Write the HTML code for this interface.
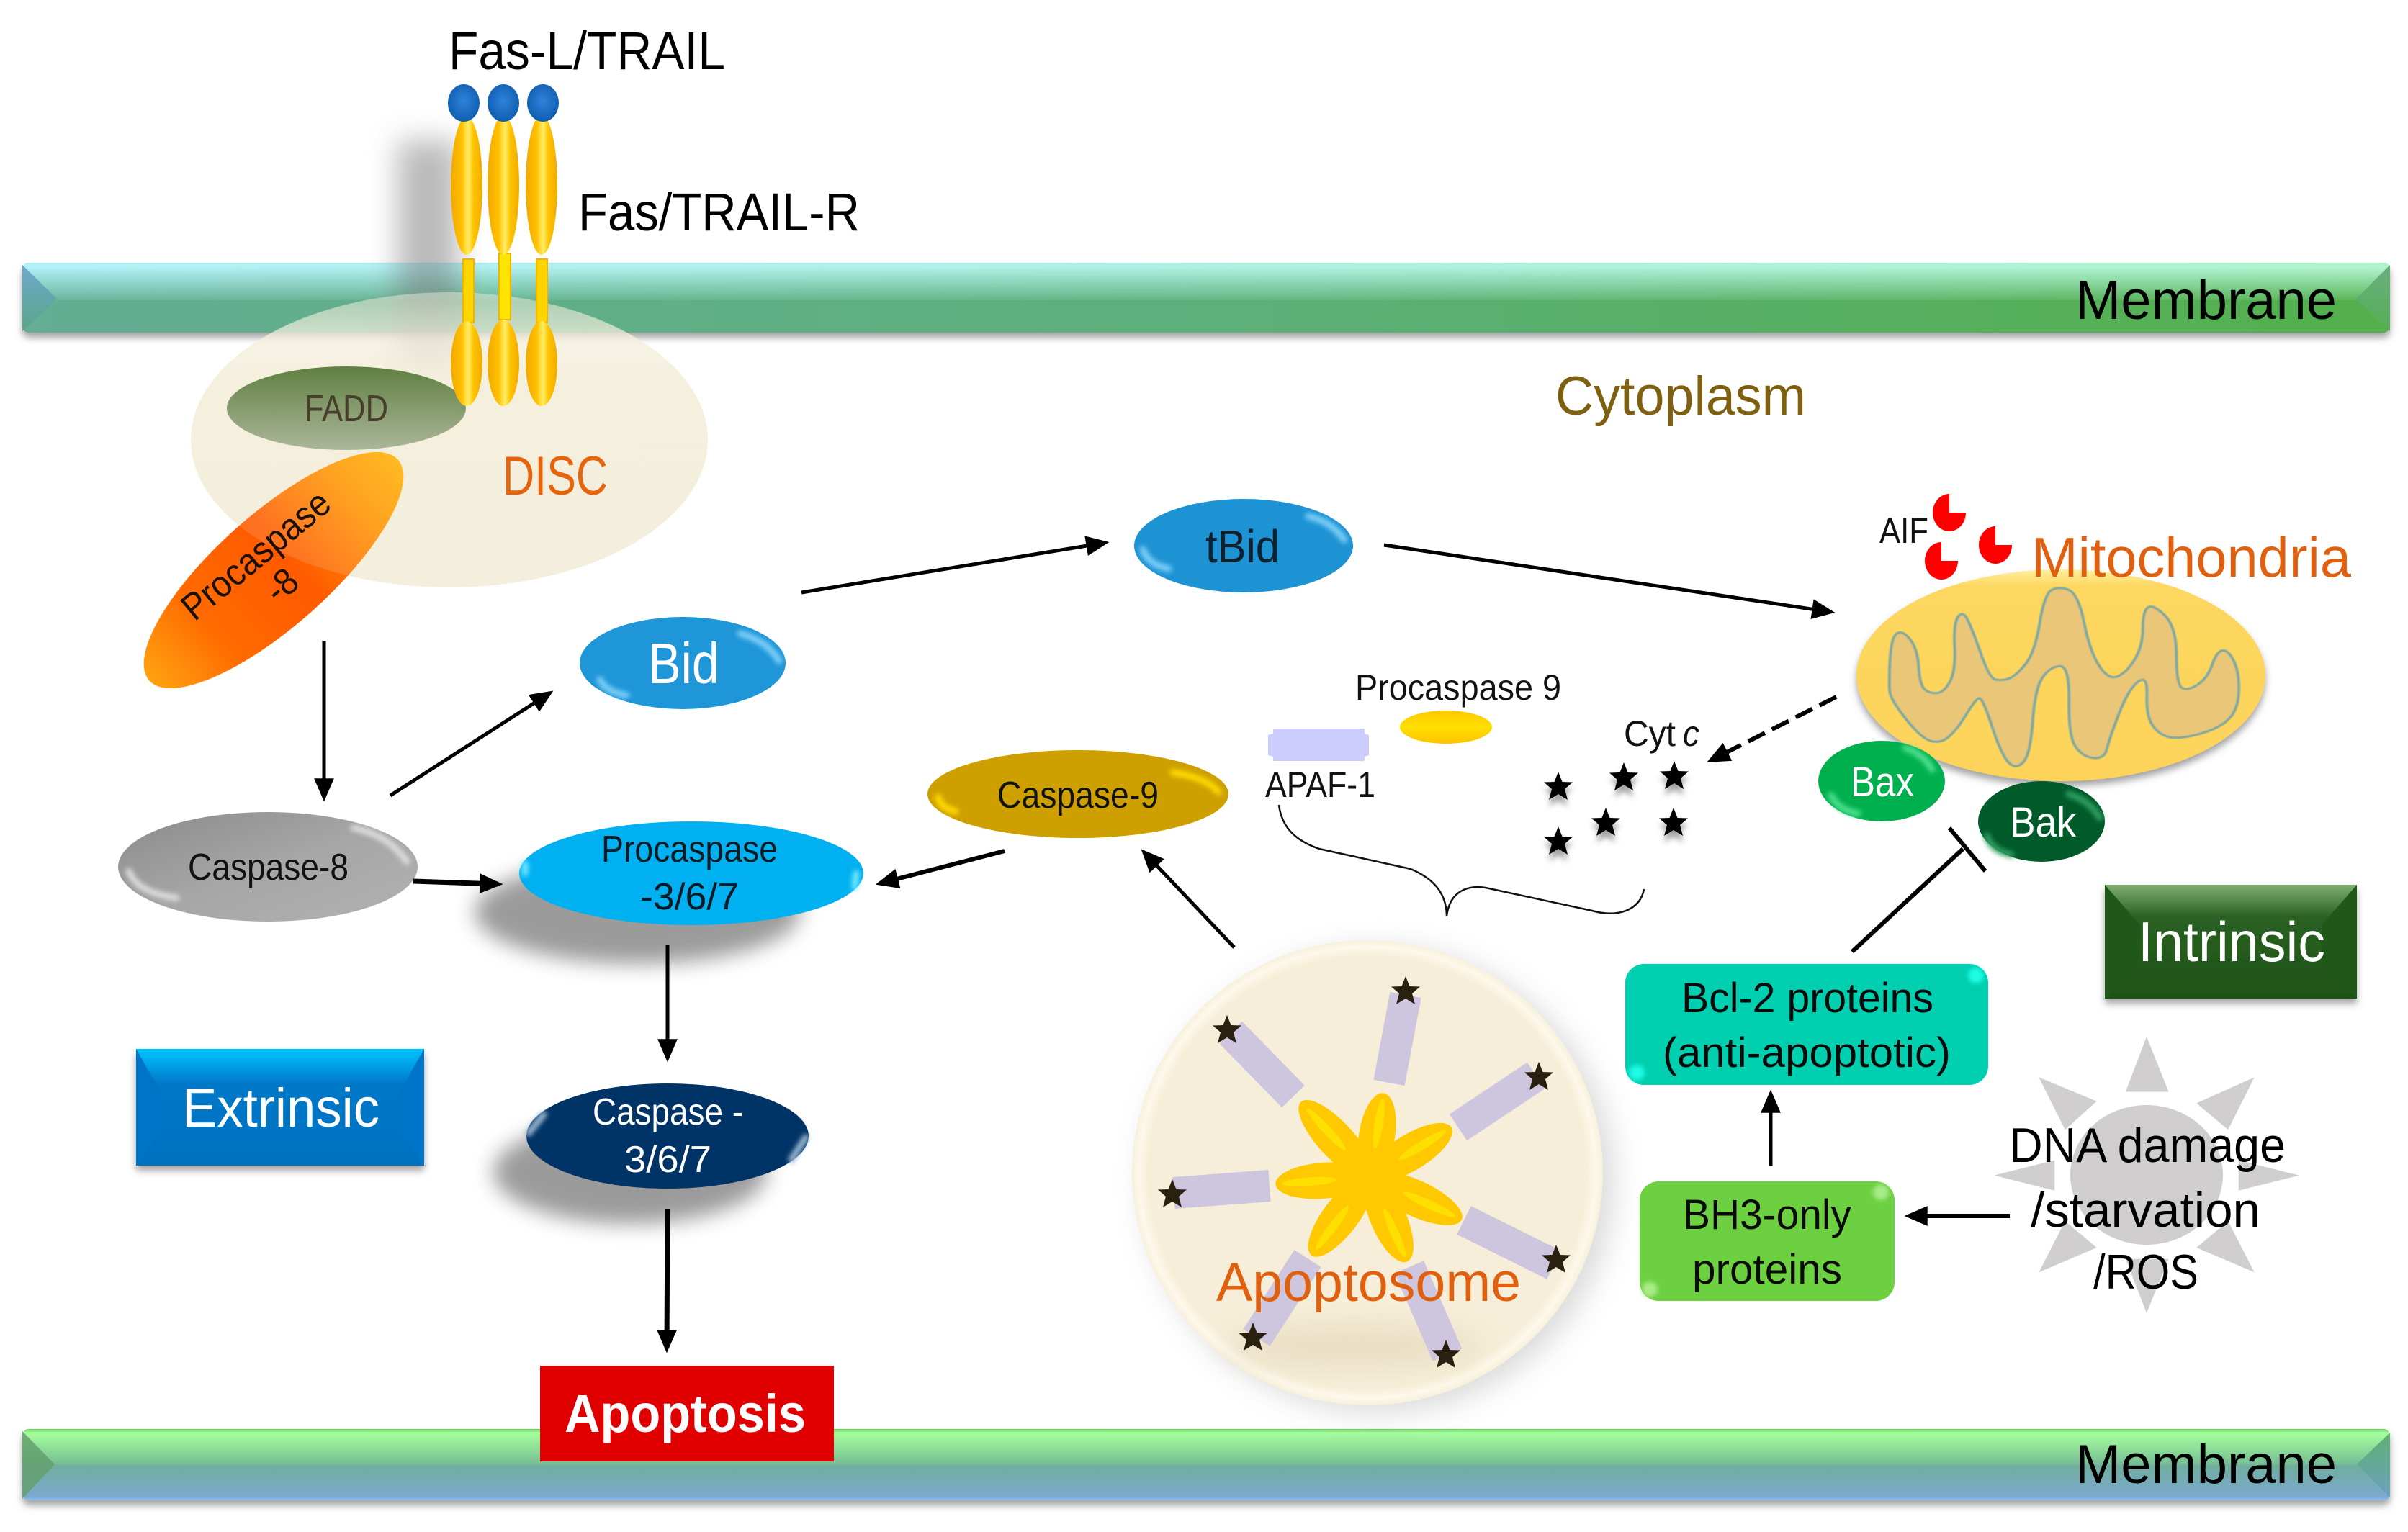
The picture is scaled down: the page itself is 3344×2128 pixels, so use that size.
<!DOCTYPE html>
<html><head><meta charset="utf-8"><style>
html,body{margin:0;padding:0;background:#fff}
svg{display:block}
text{font-family:"Liberation Sans",sans-serif}
</style></head><body>
<svg xmlns="http://www.w3.org/2000/svg" width="3344" height="2128" viewBox="0 0 3344 2128">
<defs>
<filter id="hl" filterUnits="userSpaceOnUse" x="0" y="0" width="3344" height="2128"><feGaussianBlur stdDeviation="3.5"/></filter>
<filter id="b14" x="-50%" y="-50%" width="200%" height="200%"><feGaussianBlur stdDeviation="14"/></filter>
<filter id="b20" x="-50%" y="-50%" width="200%" height="200%"><feGaussianBlur stdDeviation="20"/></filter>
<filter id="s1" x="-20%" y="-20%" width="140%" height="150%"><feDropShadow dx="0" dy="7" stdDeviation="5" flood-color="#555" flood-opacity=".55"/></filter>
<filter id="s2" x="-30%" y="-30%" width="160%" height="180%"><feDropShadow dx="0" dy="9" stdDeviation="4" flood-color="#444" flood-opacity=".5"/></filter>
<filter id="soft" x="-5%" y="-5%" width="110%" height="110%"><feGaussianBlur stdDeviation="1"/></filter>
<marker id="a" markerUnits="userSpaceOnUse" markerWidth="34" markerHeight="30" viewBox="0 0 30 28" refX="24" refY="14" orient="auto"><path d="M0 1L30 14L0 27Z" fill="#000"/></marker>
<linearGradient id="mth" x1="0" y1="0" x2="1" y2="0"><stop offset="0" stop-color="#64ae94"/><stop offset=".5" stop-color="#5cb07a"/><stop offset="1" stop-color="#52b04c"/></linearGradient>
<linearGradient id="mtg" x1="0" y1="0" x2="1" y2="0"><stop offset="0" stop-color="#b8f4ff"/><stop offset=".5" stop-color="#b6f4ea"/><stop offset="1" stop-color="#b8f8d8"/></linearGradient>
<linearGradient id="mtf" x1="0" y1="0" x2="0" y2="1"><stop offset="0" stop-color="#fff" stop-opacity=".92"/><stop offset=".1" stop-color="#fff" stop-opacity=".95"/><stop offset="1" stop-color="#fff" stop-opacity=".1"/></linearGradient>
<mask id="mm" maskUnits="userSpaceOnUse" x="31" y="365" width="3288" height="55"><rect x="31" y="365" width="3288" height="52" fill="url(#mtf)"/></mask>
<linearGradient id="mb" x1="0" y1="0" x2="0" y2="1"><stop offset="0" stop-color="#62c85a"/><stop offset=".05" stop-color="#a6ff9c"/><stop offset=".48" stop-color="#78bf95"/><stop offset=".52" stop-color="#70ae9f"/><stop offset=".95" stop-color="#7ca9cf"/><stop offset="1" stop-color="#8fbef0"/></linearGradient>
<linearGradient id="ml" x1="0" y1="0" x2="0" y2="1"><stop offset="0" stop-color="#6fa9cc"/><stop offset="1" stop-color="#5aa58a"/></linearGradient>
<linearGradient id="mr" x1="0" y1="0" x2="0" y2="1"><stop offset="0" stop-color="#6aae80"/><stop offset="1" stop-color="#56ae54"/></linearGradient>
<linearGradient id="mr2" x1="0" y1="0" x2="0" y2="1"><stop offset="0" stop-color="#5fb070"/><stop offset="1" stop-color="#6aa0c0"/></linearGradient>
<linearGradient id="ry" x1="0" y1="0" x2="1" y2="0"><stop offset="0" stop-color="#f2a900"/><stop offset=".35" stop-color="#ffc000"/><stop offset=".55" stop-color="#ffee66"/><stop offset=".72" stop-color="#ffc400"/><stop offset="1" stop-color="#f0aa00"/></linearGradient>
<radialGradient id="bb" cx=".5" cy=".45" r=".55"><stop offset="0" stop-color="#2f82dc"/><stop offset="1" stop-color="#0f5eaf"/></radialGradient>
<linearGradient id="disc" x1="0" y1="0" x2="0" y2="1"><stop offset="0" stop-color="#f6f0de" stop-opacity=".45"/><stop offset=".15" stop-color="#f5efdd" stop-opacity=".75"/><stop offset=".3" stop-color="#f5efdd"/><stop offset="1" stop-color="#f4eedc"/></linearGradient>
<linearGradient id="fadd" x1="0" y1="0" x2="0" y2="1"><stop offset="0" stop-color="#5f8040"/><stop offset="1" stop-color="#acb69b"/></linearGradient>
<linearGradient id="pc8" x1="0" y1="0" x2="1" y2="0"><stop offset="0" stop-color="#ffa210"/><stop offset=".25" stop-color="#ff6a00"/><stop offset=".55" stop-color="#ff5a00"/><stop offset=".8" stop-color="#ff9000"/><stop offset="1" stop-color="#ffb000"/></linearGradient>
<linearGradient id="gray" x1="0" y1="0" x2="1" y2="1"><stop offset="0" stop-color="#8a8a8a"/><stop offset=".5" stop-color="#a6a6a6"/><stop offset="1" stop-color="#b2b2b2"/></linearGradient>
<linearGradient id="ext" x1="0" y1="0" x2="0" y2="1"><stop offset="0" stop-color="#00c4ff"/><stop offset=".3" stop-color="#0078c8"/><stop offset="1" stop-color="#0070c0"/></linearGradient>
<linearGradient id="int" x1="0" y1="0" x2="0" y2="1"><stop offset="0" stop-color="#7fae70"/><stop offset=".28" stop-color="#2a6122"/><stop offset="1" stop-color="#1f5216"/></linearGradient>
<linearGradient id="mit" x1="0" y1="0" x2="0" y2="1"><stop offset="0" stop-color="#fff09e"/><stop offset=".08" stop-color="#fdd75f"/><stop offset="1" stop-color="#fdd35a"/></linearGradient>
<radialGradient id="apo" cx=".5" cy=".5" r=".5"><stop offset="0" stop-color="#f6eed8"/><stop offset=".93" stop-color="#f6eed8"/><stop offset=".97" stop-color="#fdf8ea"/><stop offset="1" stop-color="#f7f0dc"/></radialGradient>
<linearGradient id="pt" x1="0" y1="0" x2="0" y2="1"><stop offset="0" stop-color="#ffc800"/><stop offset=".5" stop-color="#ffe000"/><stop offset="1" stop-color="#ffc400"/></linearGradient>
<clipPath id="cd"><ellipse cx="624" cy="611" rx="359" ry="205"/></clipPath>
<g id="st"><polygon points="0,-21 5.5,-7 20,-6.5 9,3 13,18 0,10 -13,18 -9,3 -20,-6.5 -5.5,-7"/></g>
</defs>

<rect width="3344" height="2128" fill="#fff"/>

<!-- top membrane -->
<g filter="url(#s1)"><rect x="31" y="365" width="3288" height="97" rx="9" fill="url(#mth)"/></g>
<rect x="31" y="365" width="3288" height="52" rx="9" fill="url(#mtg)" mask="url(#mm)"/>
<polygon points="31,368 79,415 31,460" fill="url(#ml)"/>
<polygon points="3319,368 3272,415 3319,460" fill="url(#mr)"/>
<text x="2882" y="443" font-size="76" fill="#000" textLength="363" lengthAdjust="spacingAndGlyphs">Membrane</text>

<!-- bottom membrane -->
<g filter="url(#s1)"><rect x="31" y="1985" width="3288" height="99" rx="9" fill="url(#mb)"/></g>
<polygon points="31,1988 76,2034 31,2082" fill="#63a06f" opacity=".85"/>
<polygon points="3319,1990 3273,2034 3319,2080" fill="url(#mr2)"/>
<text x="2882" y="2060" font-size="76" fill="#000" textLength="363" lengthAdjust="spacingAndGlyphs">Membrane</text>

<!-- receptor shadow -->
<rect x="552" y="195" width="85" height="400" fill="#777" opacity=".5" filter="url(#b20)"/>

<!-- DISC -->
<ellipse cx="624" cy="611" rx="359" ry="205" fill="url(#disc)"/>
<text x="698" y="687" font-size="76" fill="#e8640c" textLength="146" lengthAdjust="spacingAndGlyphs">DISC</text>
<ellipse cx="481" cy="567" rx="166" ry="58" fill="url(#fadd)"/>
<text x="423" y="585" font-size="52" fill="#473f2c" textLength="116" lengthAdjust="spacingAndGlyphs">FADD</text>

<!-- Fas receptors -->
<g>
<rect x="643" y="360" width="15" height="88" fill="#ffd500" stroke="#f2b200" stroke-width="2"/>
<rect x="693" y="352" width="16" height="92" fill="#ffe400" stroke="#f2b200" stroke-width="2"/>
<rect x="745" y="360" width="15" height="88" fill="#ffd500" stroke="#f2b200" stroke-width="2"/>
<ellipse cx="648" cy="258" rx="22" ry="96" fill="url(#ry)"/>
<ellipse cx="699" cy="257" rx="22" ry="97" fill="url(#ry)"/>
<ellipse cx="752" cy="257" rx="22" ry="97" fill="url(#ry)"/>
<ellipse cx="648" cy="505" rx="22" ry="59" fill="url(#ry)"/>
<ellipse cx="699" cy="504" rx="22" ry="60" fill="url(#ry)"/>
<ellipse cx="752" cy="505" rx="22" ry="59" fill="url(#ry)"/>
<ellipse cx="644" cy="143" rx="22" ry="26" fill="url(#bb)"/>
<ellipse cx="699" cy="143" rx="22" ry="26" fill="url(#bb)"/>
<ellipse cx="754" cy="143" rx="22" ry="26" fill="url(#bb)"/>
</g>
<text x="623" y="96" font-size="74" fill="#000" textLength="384" lengthAdjust="spacingAndGlyphs">Fas-L/TRAIL</text>
<text x="803" y="320" font-size="74" fill="#000" textLength="391" lengthAdjust="spacingAndGlyphs">Fas/TRAIL-R</text>

<!-- Procaspase-8 -->
<ellipse cx="380" cy="792" rx="231" ry="78" transform="rotate(-41.6 380 792)" fill="url(#pc8)"/>
<g clip-path="url(#cd)"><ellipse cx="380" cy="792" rx="231" ry="78" transform="rotate(-41.6 380 792)" fill="#fff" opacity=".13"/></g>
<text transform="translate(270 864) rotate(-39.5)" font-size="52" fill="#1a1000" textLength="250" lengthAdjust="spacingAndGlyphs">Procaspase</text>
<text transform="translate(386 840) rotate(-39.5)" font-size="52" fill="#1a1000" textLength="42" lengthAdjust="spacingAndGlyphs">-8</text>

<!-- Bid / tBid -->
<ellipse cx="948" cy="921" rx="143" ry="64" fill="#1e96d8"/>
<text x="900" y="949" font-size="80" fill="#fff" textLength="99" lengthAdjust="spacingAndGlyphs">Bid</text>
<ellipse cx="1727" cy="758" rx="152" ry="65" fill="#1d93d3"/>
<text x="1674" y="781" font-size="64" fill="#10202c" textLength="103" lengthAdjust="spacingAndGlyphs">tBid</text>

<!-- Caspase-8 -->
<ellipse cx="372" cy="1204" rx="208" ry="76" fill="url(#gray)"/>
<text x="261" y="1222" font-size="52" fill="#111" textLength="223" lengthAdjust="spacingAndGlyphs">Caspase-8</text>

<!-- Procaspase 3/6/7 -->
<ellipse cx="885" cy="1267" rx="226" ry="72" fill="#666" opacity=".65" filter="url(#b14)"/>
<ellipse cx="960" cy="1213" rx="239" ry="72" fill="#00b0f0"/>
<text x="835" y="1197" font-size="52" fill="#0a1a22" textLength="245" lengthAdjust="spacingAndGlyphs">Procaspase</text>
<text x="889" y="1263" font-size="52" fill="#0a1a22" textLength="137" lengthAdjust="spacingAndGlyphs">-3/6/7</text>

<!-- Caspase 3/6/7 -->
<ellipse cx="875" cy="1628" rx="190" ry="72" fill="#666" opacity=".65" filter="url(#b14)"/>
<ellipse cx="927" cy="1578" rx="196" ry="73" fill="#003366"/>
<text x="823" y="1562" font-size="52" fill="#fff" textLength="209" lengthAdjust="spacingAndGlyphs">Caspase -</text>
<text x="867" y="1628" font-size="52" fill="#fff" textLength="121" lengthAdjust="spacingAndGlyphs">3/6/7</text>

<!-- Extrinsic -->
<g filter="url(#s1)"><rect x="189" y="1457" width="400" height="162" fill="url(#ext)"/></g>
<polygon points="189,1457 225,1520 225,1570 189,1619" fill="#0074c6"/>
<polygon points="589,1457 553,1520 553,1570 589,1619" fill="#0074c6"/>
<text x="253" y="1565" font-size="76" fill="#fff" textLength="274" lengthAdjust="spacingAndGlyphs">Extrinsic</text>

<!-- Apoptosis -->
<rect x="750" y="1897" width="408" height="133" fill="#e00000"/>
<text x="784" y="1989" font-size="74" font-weight="bold" fill="#fff" textLength="335" lengthAdjust="spacingAndGlyphs">Apoptosis</text>

<!-- Caspase-9 / APAF / Procaspase 9 -->
<ellipse cx="1497" cy="1103" rx="209" ry="61" fill="#cda000"/>
<text x="1385" y="1122" font-size="52" fill="#111" textLength="224" lengthAdjust="spacingAndGlyphs">Caspase-9</text>
<path d="M1768 1012H1895V1019L1901 1021V1049L1895 1051V1057H1768V1051L1761 1049V1021L1768 1019Z" fill="#ccccff"/>
<text x="1757" y="1107" font-size="50" fill="#111" textLength="153" lengthAdjust="spacingAndGlyphs">APAF-1</text>
<text x="1882" y="972" font-size="50" fill="#111" textLength="286" lengthAdjust="spacingAndGlyphs">Procaspase 9</text>
<ellipse cx="2008" cy="1010" rx="64" ry="23" fill="url(#pt)"/>
<text x="2255" y="1036" font-size="50" fill="#111" textLength="72" lengthAdjust="spacingAndGlyphs">Cyt</text>
<text x="2337" y="1036" font-size="50" font-style="italic" fill="#111" textLength="23" lengthAdjust="spacingAndGlyphs">c</text>

<!-- free stars -->
<g fill="#000" filter="url(#s2)">
<use href="#st" x="2164" y="1093"/><use href="#st" x="2255" y="1080"/><use href="#st" x="2325" y="1078"/>
<use href="#st" x="2230" y="1143"/><use href="#st" x="2324" y="1143"/><use href="#st" x="2164" y="1169"/>
</g>

<!-- brace -->
<path d="M1776 1118C1780 1150 1800 1168 1832 1179L1959 1207C1990 1220 2009 1240 2009 1273C2012 1245 2030 1228 2063 1233L2211 1265C2245 1275 2278 1265 2283 1235" fill="none" stroke="#111" stroke-width="2.5"/>

<!-- Mitochondria -->
<g filter="url(#s1)"><ellipse cx="2862" cy="938" rx="284" ry="147" fill="url(#mit)"/></g>
<g transform="translate(2300 600) scale(.6658 .5102)" filter="url(#soft)">
<path d="M487.5 625Q490 560 501.5 549Q513 538 529 564Q545 590 547.5 640Q550 690 560 701Q570 712 585 711Q600 710 612.5 680Q625 650 622.5 585Q620 520 630 502.5Q640 485 650 512.5Q660 540 677.5 605Q695 670 707.5 674Q720 678 735 671.5Q750 665 770 632.5Q790 600 800 520Q810 440 825 430Q840 420 860 430Q880 440 892.5 520Q905 600 925 639Q945 678 965 664Q985 650 1000 615Q1015 580 1015 535Q1015 490 1025 478.5Q1035 467 1060 498.5Q1085 530 1085 610Q1085 690 1097.5 697.5Q1110 705 1130 687.5Q1150 670 1160 632.5Q1170 595 1182.5 595Q1195 595 1206 627.5Q1217 660 1215 710Q1213 760 1191.5 785Q1170 810 1127.5 824Q1085 838 1065 829Q1045 820 1033.5 795Q1022 770 1023.5 715Q1025 660 1005 680Q985 700 965 767.5Q945 835 940 862.5Q935 890 912.5 887.5Q890 885 875 857.5Q860 830 861 732.5Q862 635 841 637.5Q820 640 805 670Q790 700 785 790Q780 880 765 900Q750 920 735 900Q720 880 700 800Q680 720 672.5 725Q665 730 645 772.5Q625 815 607.5 832.5Q590 850 570 840Q550 830 520 780Q490 730 487.5 710Q485 690 487.5 625Z" fill="#e9c678" stroke="#7fa9a0" stroke-width="6" stroke-linejoin="round"/>
</g>
<text x="2821" y="801" font-size="78" fill="#e0600f" textLength="444" lengthAdjust="spacingAndGlyphs">Mitochondria</text>
<text x="2610" y="754" font-size="50" fill="#111" textLength="68" lengthAdjust="spacingAndGlyphs">AIF</text>
<g fill="#ff0000">
<path d="M2707 686V712H2730A23 26 0 1 1 2707 686Z"/>
<path d="M2771 731V757H2794A23 26 0 1 1 2771 731Z"/>
<path d="M2696 753V779H2719A23 26 0 1 1 2696 753Z"/>
</g>
<ellipse cx="2613" cy="1085" rx="88" ry="56" fill="#00b04f"/>
<text x="2570" y="1106" font-size="58" fill="#fff" textLength="88" lengthAdjust="spacingAndGlyphs">Bax</text>
<ellipse cx="2835" cy="1141" rx="88" ry="56" fill="#005a2a"/>
<text x="2791" y="1162" font-size="58" fill="#fff" textLength="92" lengthAdjust="spacingAndGlyphs">Bak</text>

<!-- Intrinsic -->
<g filter="url(#s1)"><rect x="2923" y="1229" width="350" height="158" fill="url(#int)"/></g>
<polygon points="2923,1229 2972,1285 2972,1340 2923,1387" fill="#20581a"/>
<polygon points="3273,1229 3224,1285 3224,1340 3273,1387" fill="#20581a"/>
<text x="2969" y="1335" font-size="78" fill="#fff" textLength="260" lengthAdjust="spacingAndGlyphs">Intrinsic</text>

<!-- Bcl-2, BH3 -->
<rect x="2257" y="1339" width="504" height="168" rx="26" fill="#00cfb0"/>
<text x="2335" y="1406" font-size="58" fill="#0a0a0a" textLength="350" lengthAdjust="spacingAndGlyphs">Bcl-2 proteins</text>
<text x="2309" y="1482" font-size="58" fill="#0a0a0a" textLength="400" lengthAdjust="spacingAndGlyphs">(anti-apoptotic)</text>
<rect x="2277" y="1641" width="354" height="166" rx="26" fill="#6cd040"/>
<text x="2337" y="1707" font-size="58" fill="#0a0a0a" textLength="234" lengthAdjust="spacingAndGlyphs">BH3-only</text>
<text x="2350" y="1783" font-size="58" fill="#0a0a0a" textLength="208" lengthAdjust="spacingAndGlyphs">proteins</text>

<!-- Stress sun -->
<g transform="translate(2200 1300) scale(.7299 .528)" fill="#d0cece">
<polygon points="1070,265 1030,410 1112,410"/><polygon points="1070,992 1030,850 1112,850"/>
<polygon points="780,630 895,590 895,670"/><polygon points="1360,630 1245,590 1245,670"/>
<polygon points="1275,372 1165,440 1225,510"/><polygon points="865,372 975,435 915,510"/>
<polygon points="865,885 975,820 915,750"/><polygon points="1275,885 1165,820 1225,750"/>
</g>
<ellipse cx="2981" cy="1632" rx="106" ry="97" fill="#d0cece"/>
<text x="2790" y="1614" font-size="68" fill="#000" textLength="384" lengthAdjust="spacingAndGlyphs">DNA damage</text>
<text x="2820" y="1704" font-size="68" fill="#000" textLength="319" lengthAdjust="spacingAndGlyphs">/starvation</text>
<text x="2907" y="1790" font-size="68" fill="#000" textLength="146" lengthAdjust="spacingAndGlyphs">/ROS</text>

<!-- Apoptosome -->
<ellipse cx="1915" cy="1640" rx="327" ry="323" fill="#888" opacity=".3" filter="url(#b20)"/>
<ellipse cx="1899" cy="1629" rx="327" ry="323" fill="url(#apo)"/>
<ellipse cx="1880" cy="1870" rx="180" ry="30" fill="#e3d8bc" opacity=".7" filter="url(#b20)"/>
<g stroke="#cdc6de" stroke-width="44" fill="none">
<line x1="1929" y1="1504" x2="1952" y2="1382"/>
<line x1="1796" y1="1523" x2="1709" y2="1434"/>
<line x1="2025" y1="1566" x2="2133" y2="1494"/>
<line x1="1763" y1="1647" x2="1630" y2="1657"/>
<line x1="1816" y1="1748" x2="1745" y2="1858"/>
<line x1="1957" y1="1760" x2="2010" y2="1882"/>
<line x1="2033" y1="1695" x2="2158" y2="1757"/>
</g>
<g fill="#ffc800">
<ellipse cx="59" cy="0" rx="59" ry="25" transform="translate(1903 1635) rotate(-81)"/>
<ellipse cx="71" cy="0" rx="71" ry="25" transform="translate(1903 1635) rotate(-132.7)"/>
<ellipse cx="66" cy="0" rx="66" ry="25" transform="translate(1903 1635) rotate(-31.6)"/>
<ellipse cx="66" cy="0" rx="66" ry="25" transform="translate(1903 1635) rotate(175.7)"/>
<ellipse cx="68" cy="0" rx="68" ry="25" transform="translate(1903 1635) rotate(127)"/>
<ellipse cx="64" cy="0" rx="64" ry="25" transform="translate(1903 1635) rotate(66.5)"/>
<ellipse cx="70" cy="0" rx="70" ry="25" transform="translate(1903 1635) rotate(25)"/>
</g>
<g fill="#ffdf00">
<ellipse cx="75" cy="0" rx="35" ry="6" transform="translate(1903 1635) rotate(-81)"/>
<ellipse cx="90" cy="0" rx="40" ry="6" transform="translate(1903 1635) rotate(-132.7)"/>
<ellipse cx="85" cy="0" rx="38" ry="6" transform="translate(1903 1635) rotate(-31.6)"/>
<ellipse cx="85" cy="0" rx="38" ry="6" transform="translate(1903 1635) rotate(175.7)"/>
<ellipse cx="88" cy="0" rx="38" ry="6" transform="translate(1903 1635) rotate(127)"/>
<ellipse cx="85" cy="0" rx="36" ry="6" transform="translate(1903 1635) rotate(66.5)"/>
<ellipse cx="90" cy="0" rx="40" ry="6" transform="translate(1903 1635) rotate(25)"/>
</g>
<g fill="#2a2010">
<use href="#st" x="1952" y="1377"/><use href="#st" x="1704" y="1431"/><use href="#st" x="2137" y="1496"/>
<use href="#st" x="1628" y="1659"/><use href="#st" x="1740" y="1858"/><use href="#st" x="2008" y="1882"/><use href="#st" x="2161" y="1750"/>
</g>
<text x="1689" y="1807" font-size="76" fill="#e0600f" textLength="423" lengthAdjust="spacingAndGlyphs">Apoptosome</text>

<!-- Cytoplasm -->
<text x="2160" y="576" font-size="76" fill="#7f5f10" textLength="348" lengthAdjust="spacingAndGlyphs">Cytoplasm</text>

<!-- gloss highlights -->
<g fill="none" stroke-width="9" stroke-linecap="round" filter="url(#hl)">
<path d="M1587 763Q1595 785 1623 790" stroke="#7fd0f8"/><path d="M1817 717Q1850 725 1867 750" stroke="#7fd0f8"/>
<path d="M833 944Q840 960 870 966" stroke="#7fd0f8"/><path d="M1028 880Q1065 890 1082 918" stroke="#7fd0f8"/>
<path d="M491 1150Q540 1160 565 1197" stroke="#dcdcdc"/><path d="M179 1210Q190 1240 245 1247" stroke="#dcdcdc"/>
<path d="M729 1200L729 1213" stroke="#70e8ff"/><path d="M1189 1213L1187 1232" stroke="#70e8ff"/>
<path d="M1303 1107Q1305 1122 1327 1127" stroke="#ffdc00"/><path d="M1629 1073Q1675 1080 1692 1100" stroke="#ffdc00"/>
<path d="M2646 1039Q2672 1048 2683 1069" stroke="#50e090"/><path d="M2543 1105Q2552 1125 2580 1130" stroke="#50e090"/>
<path d="M2873 1103Q2902 1112 2916 1136" stroke="#30a060"/><path d="M2759 1161Q2766 1182 2793 1187" stroke="#30a060"/>
<path d="M734 1574L755 1548" stroke="#9ab8d0"/><path d="M1119 1580L1099 1611" stroke="#9ab8d0"/>
<circle cx="2744" cy="1355" r="6" stroke="#20ffe8"/><circle cx="2273" cy="1490" r="6" stroke="#20ffe8"/>
<circle cx="2612" cy="1656" r="6" stroke="#b0ee90"/><circle cx="2291" cy="1791" r="6" stroke="#b0ee90"/>
</g>

<!-- Arrows -->
<g stroke="#000" stroke-width="5" fill="none">
<line x1="450" y1="890" x2="450" y2="1107" marker-end="url(#a)"/>
<line x1="542" y1="1105" x2="763" y2="963" marker-end="url(#a)"/>
<line x1="1113" y1="823" x2="1534" y2="754" marker-end="url(#a)"/>
<line x1="1922" y1="757" x2="2542" y2="850" marker-end="url(#a)"/>
<line x1="2550" y1="968" x2="2376" y2="1056" stroke-width="6" stroke-dasharray="26 11" marker-end="url(#a)"/>
<line x1="1714" y1="1316" x2="1589" y2="1184" marker-end="url(#a)"/>
<line x1="1395" y1="1182" x2="1222" y2="1227" stroke-width="6" marker-end="url(#a)"/>
<line x1="574" y1="1224" x2="692" y2="1228" stroke-width="7" marker-end="url(#a)"/>
<line x1="927" y1="1312" x2="927" y2="1469" marker-end="url(#a)"/>
<line x1="927" y1="1680" x2="926" y2="1873" stroke-width="7" marker-end="url(#a)"/>
<line x1="2459" y1="1619" x2="2459" y2="1520" marker-end="url(#a)"/>
<line x1="2791" y1="1689" x2="2651" y2="1689" stroke-width="6" marker-end="url(#a)"/>
<line x1="2572" y1="1322" x2="2726" y2="1179" stroke-width="6"/>
<line x1="2707" y1="1150" x2="2757" y2="1210" stroke-width="6"/>
</g>
</svg>
</body></html>
